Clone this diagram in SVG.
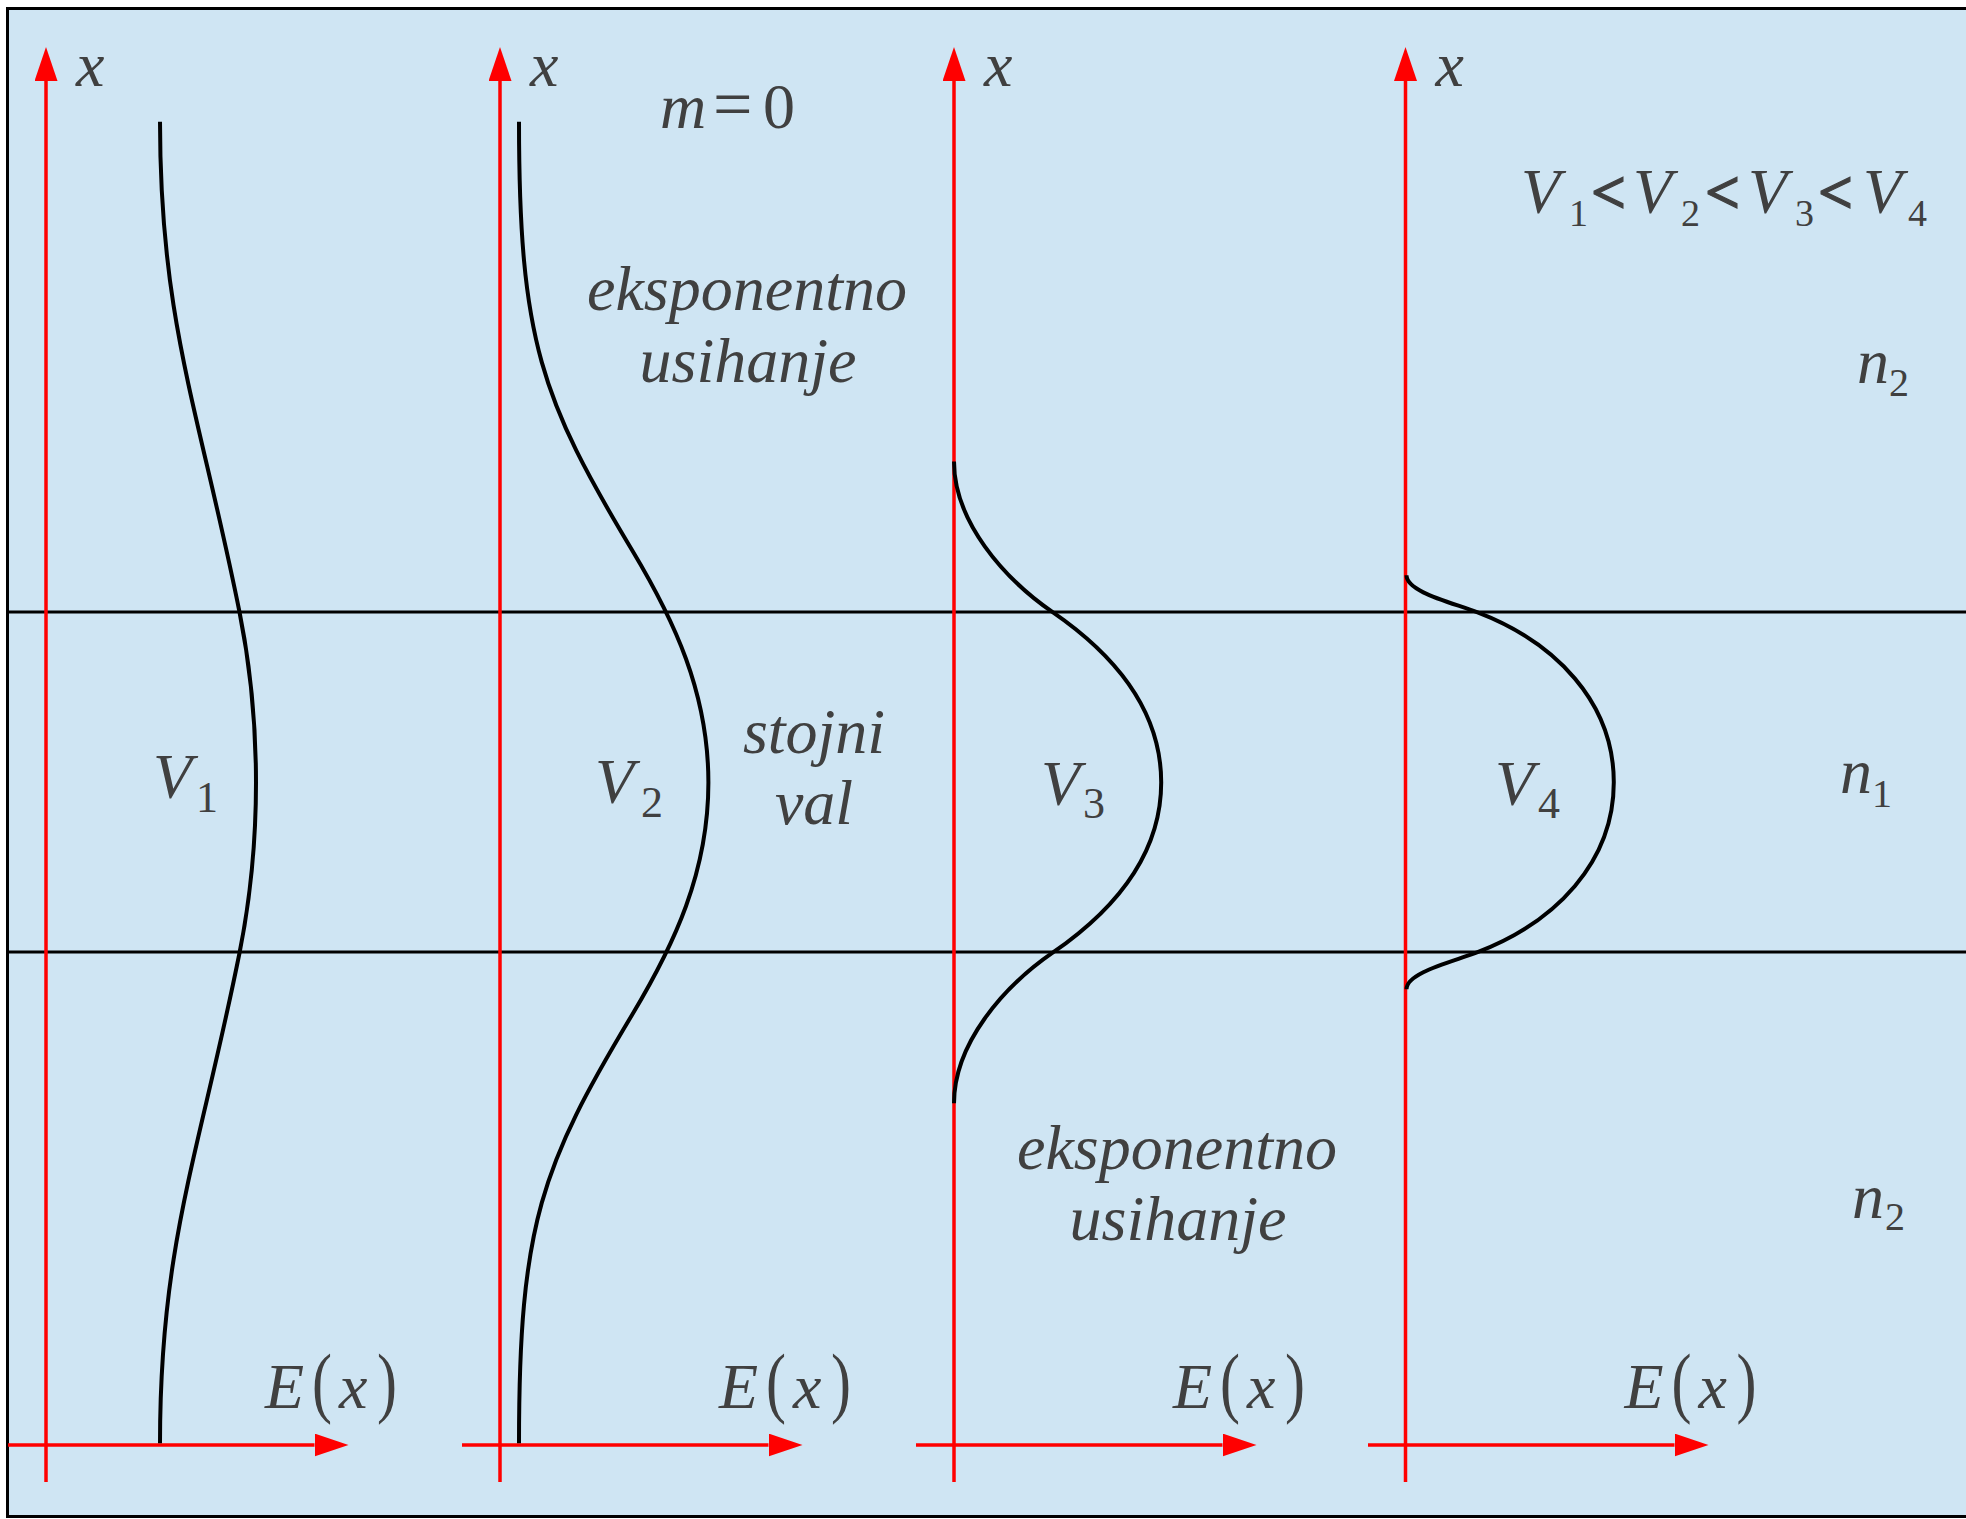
<svg xmlns="http://www.w3.org/2000/svg" width="1966" height="1519" viewBox="0 0 1966 1519">
<style>
.t{font-family:"Liberation Serif","Times New Roman",serif;font-style:italic;font-size:64px;fill:#404040}
.u{font-style:normal}
.eq{font-style:normal;font-size:70px}
.s{font-style:normal;font-size:44px}
.ns{font-style:normal;font-size:40px}
.fs{font-style:normal;font-size:38px}
.lt{font-style:normal;font-weight:bold;font-size:62px;stroke:#404040;stroke-width:1.2}
.pp{font-style:normal;font-size:60px}
.ax{stroke:#FF0000;stroke-width:3.5;fill:none}
.cv{stroke:#000;stroke-width:4;fill:none}
.hl{stroke:#000;stroke-width:3}
</style>
<defs>
<marker id="ah" markerUnits="userSpaceOnUse" markerWidth="36" markerHeight="26" refX="0" refY="11.5" orient="auto" viewBox="0 0 36 26">
<path d="M0,0 L34,11.5 L0,23 z" fill="#FF0000"/>
</marker>
</defs>
<rect x="0" y="0" width="1966" height="1519" fill="#FFFFFF"/>
<rect id="frame" x="7.5" y="8.5" width="1975" height="1508" fill="#CFE5F3" stroke="#000" stroke-width="3"/>
<g id="boundaries">
<line class="hl" x1="7" y1="612" x2="1966" y2="612"/>
<line class="hl" x1="7" y1="952" x2="1966" y2="952"/>
</g>
<g id="connectors">
<line class="ax" x1="46" y1="1482" x2="46" y2="81" marker-end="url(#ah)"/>
<line class="ax" x1="8" y1="1445" x2="314.5" y2="1445" marker-end="url(#ah)"/>
<line class="ax" x1="500" y1="1482" x2="500" y2="81" marker-end="url(#ah)"/>
<line class="ax" x1="462" y1="1445" x2="768.5" y2="1445" marker-end="url(#ah)"/>
<line class="ax" x1="954" y1="1482" x2="954" y2="81" marker-end="url(#ah)"/>
<line class="ax" x1="916" y1="1445" x2="1222.5" y2="1445" marker-end="url(#ah)"/>
<line class="ax" x1="1405.5" y1="1482" x2="1405.5" y2="81" marker-end="url(#ah)"/>
<line class="ax" x1="1368" y1="1445" x2="1674.5" y2="1445" marker-end="url(#ah)"/>
</g>
<g id="curve-1">
<path class="cv" d="M160,121.7 C160,321.7 199.5,412 239.5,612 C250.5,667 256,723.8 256,782.5 C256,841.2 250.5,898 239.5,953 C199.5,1153 160,1243.3 160,1443.3"/>
</g>
<g id="curve-2">
<path class="cv" d="M519,121.7 C519,341.7 542,400 632,550 C674,620 708.4,692.5 708.4,782.5 C708.4,872.5 674,945 632,1015 C542,1165 519,1223.3 519,1443.3"/>
</g>
<g id="curve-3">
<path class="cv" d="M954,461.5 C954,521 1003,577.9 1053,612.4 C1118.25,657.4 1161.2,712.4 1161.2,782.4 C1161.2,852.4 1118.25,907.4 1053,952.4 C1003,986.9 954,1043.8 954,1103.3"/>
</g>
<g id="curve-4">
<path class="cv" d="M1406.5,575.3 C1406.5,592 1451.6,602.4 1477.6,612.4 C1555.6,642.4 1613.8,702.3 1613.8,782.3 C1613.8,862.3 1555.6,922.2 1477.6,952.2 C1451.6,962.2 1406.5,972.6 1406.5,989.3"/>
</g>
<g id="axis-labels">
<text class="t" x="76" y="86">x</text>
<text class="t" x="530" y="86">x</text>
<text class="t" x="984" y="86">x</text>
<text class="t" x="1435.5" y="86">x</text>
<text class="t" y="1408"><tspan x="265">E</tspan><tspan x="339">x</tspan></text>
<text class="t pp" transform="translate(312,1408) scale(1,1.3)">(</text>
<text class="t pp" transform="translate(377,1408) scale(1,1.3)">)</text>
<text class="t" y="1408"><tspan x="719">E</tspan><tspan x="793">x</tspan></text>
<text class="t pp" transform="translate(766,1408) scale(1,1.3)">(</text>
<text class="t pp" transform="translate(831,1408) scale(1,1.3)">)</text>
<text class="t" y="1408"><tspan x="1173">E</tspan><tspan x="1247">x</tspan></text>
<text class="t pp" transform="translate(1220,1408) scale(1,1.3)">(</text>
<text class="t pp" transform="translate(1285,1408) scale(1,1.3)">)</text>
<text class="t" y="1408"><tspan x="1624.5">E</tspan><tspan x="1698.5">x</tspan></text>
<text class="t pp" transform="translate(1671.5,1408) scale(1,1.3)">(</text>
<text class="t pp" transform="translate(1736.5,1408) scale(1,1.3)">)</text>
</g>
<g id="mode-label">
<text class="t" y="128"><tspan x="660">m</tspan><tspan class="eq" x="713">=</tspan><tspan class="u" x="763">0</tspan></text>
</g>
<g id="inequality">
<text class="t" y="213.3"><tspan x="1521">V</tspan><tspan class="fs" x="1569" y="226">1</tspan><tspan class="lt" x="1591" y="213.3">&lt;</tspan><tspan x="1633">V</tspan><tspan class="fs" x="1681" y="226">2</tspan><tspan class="lt" x="1705" y="213.3">&lt;</tspan><tspan x="1748">V</tspan><tspan class="fs" x="1795" y="226">3</tspan><tspan class="lt" x="1818" y="213.3">&lt;</tspan><tspan x="1863">V</tspan><tspan class="fs" x="1908" y="226">4</tspan></text>
</g>
<g id="region-labels">
<text class="t" x="747" y="310" text-anchor="middle">eksponentno</text>
<text class="t" x="748" y="381.7" text-anchor="middle">usihanje</text>
<text class="t" x="814" y="753" text-anchor="middle">stojni</text>
<text class="t" x="814" y="824" text-anchor="middle">val</text>
<text class="t" x="1177" y="1169" text-anchor="middle">eksponentno</text>
<text class="t" x="1178" y="1240" text-anchor="middle">usihanje</text>
</g>
<g id="v-labels">
<text class="t" y="798"><tspan x="153">V</tspan><tspan class="s" x="196" y="812">1</tspan></text>
<text class="t" y="803"><tspan x="595">V</tspan><tspan class="s" x="641" y="817">2</tspan></text>
<text class="t" y="804.6"><tspan x="1041">V</tspan><tspan class="s" x="1083" y="818">3</tspan></text>
<text class="t" y="804.6"><tspan x="1495">V</tspan><tspan class="s" x="1538" y="818">4</tspan></text>
</g>
<g id="n-labels">
<text class="t" y="383"><tspan x="1857">n</tspan><tspan class="ns" x="1889" y="396">2</tspan></text>
<text class="t" y="793"><tspan x="1840">n</tspan><tspan class="ns" x="1872" y="807">1</tspan></text>
<text class="t" y="1218"><tspan x="1852">n</tspan><tspan class="ns" x="1885" y="1230">2</tspan></text>
</g>
</svg>
